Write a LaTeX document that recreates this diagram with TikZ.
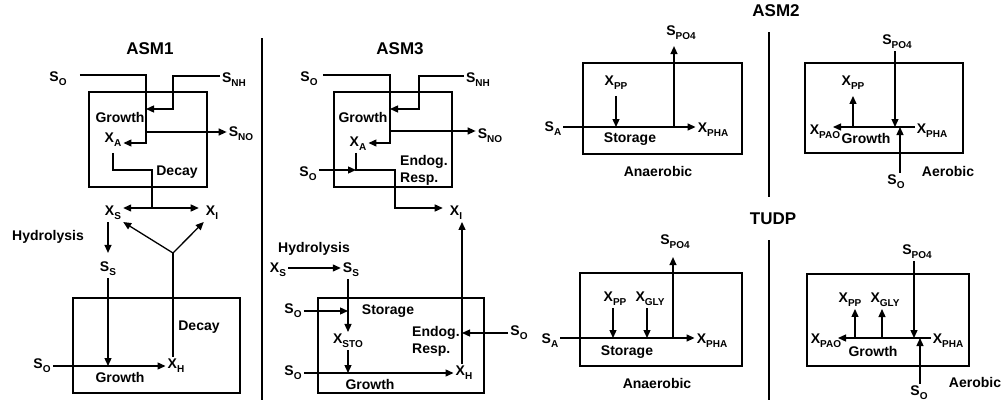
\documentclass[tikz,border=0pt]{standalone}
\usepackage{fontspec}
\setmainfont{Liberation Sans}
\usetikzlibrary{arrows.meta}
\newcommand\mysub[1]{\raisebox{-0.28em}{\fontsize{10}{10}\selectfont #1}}
\newcommand\myvar[2]{#1\mysub{#2}}
\begin{document}
\begin{tikzpicture}[x=1pt,y=-1pt,
  lbl/.style={inner sep=2pt, font=\fontsize{14}{17}\selectfont\bfseries},
  ttl/.style={inner sep=0pt, font=\fontsize{17}{19}\selectfont\bfseries},
  ln/.style={line width=1.3pt},
  arr/.style={ln,-{Triangle[length=8pt,width=7pt]}},
  proc/.style={draw, line width=1.4pt, inner sep=0pt, outer sep=0pt},
  divider/.style={line width=2.6pt}]
\useasboundingbox (0,0) rectangle (1002,402);

% ---------------- ASM1 ----------------
\node[ttl] (t1) at (150,48.5) {ASM1};
\node[proc, minimum width=118pt, minimum height=95pt] (a1B1) at (148,139.5) {};
\node[lbl] (a1SO) at (58,79) {\myvar{S}{O}};
\node[lbl] (a1SNH) at (234,80) {\myvar{S}{NH}};
\node[lbl] (a1SNO) at (241,134) {\myvar{S}{NO}};
\node[lbl] (a1G) at (120,117) {Growth};
\node[lbl] (a1XA) at (113,140) {\myvar{X}{A}};
\node[lbl] (a1D) at (177,172) {Decay};
\node[lbl] (a1XS) at (113,213) {\myvar{X}{S}};
\node[lbl] (a1XI) at (212,213) {\myvar{X}{I}};
\node[lbl] (a1Hy) at (48,237) {Hydrolysis};
\node[lbl] (a1SS) at (108,269) {\myvar{S}{S}};
\node[proc, minimum width=167pt, minimum height=95pt] (a1B2) at (156.5,345.5) {};
\node[lbl] (a1D2) at (199,327) {Decay};
\node[lbl] (a1SO2) at (42,366) {\myvar{S}{O}};
\node[lbl] (a1XH) at (176,366) {\myvar{X}{H}};
\node[lbl] (a1G2) at (120,377) {Growth};

\coordinate (a1p1) at (146,75);
\coordinate (a1p2) at (146,143);
\draw[arr, shorten <=11pt] (a1SO.east |- a1p1) -- (a1p1) -- (a1p2) -- (a1p2 -| a1XA.east);
\coordinate (a1p3) at (173,76);
\coordinate (a1p4) at (173,109);
\draw[arr] (a1SNH.west |- a1p3) -- (a1p3) -- (a1p4) -- (a1p4 -| a1p1);
\coordinate (a1p5) at (146,132);
\draw[arr] (a1p5) -- (a1p5 -| a1SNO.west);
\coordinate (a1p6) at (152,170);
\coordinate (a1p7) at (152,208);
\draw[ln, shorten <=4pt] (a1XA.south) |- (a1p6) -- (a1p7);
\draw[arr] (a1p7) -- (a1p7 -| a1XS.east);
\draw[arr, shorten >=5pt] (a1p7) -- (a1p7 -| a1XI.west);
\coordinate (a1p8) at (173,253);
\draw[ln] (a1XH.north -| a1p8) -- (a1p8);
\draw[arr] (a1p8) -- (a1XS.south east);
\draw[arr] (a1p8) -- (a1XI.south west);
\draw[arr, shorten >=7pt] (a1SS.north |- a1XS.south) -- (a1SS.north);
\draw[arr] (a1SS.south) -- (a1SS.south |- a1SO2.east);
\draw[arr] (a1SO2.east) -- (a1XH.west);

\draw[divider] (262,38) -- (262,400);

% ---------------- ASM3 ----------------
\node[ttl] (t3) at (400,48.5) {ASM3};
\node[proc, minimum width=118pt, minimum height=95pt] (a3B1) at (393,139.5) {};
\node[lbl] (a3SO) at (309,79) {\myvar{S}{O}};
\node[lbl] (a3SNH) at (478,80) {\myvar{S}{NH}};
\node[lbl] (a3SNO) at (490,136) {\myvar{S}{NO}};
\node[lbl] (a3G) at (363,117) {Growth};
\node[lbl] (a3XA) at (358,144) {\myvar{X}{A}};
\node[lbl, align=left, anchor=west] (a3ER) at (398,170) {Endog.\\Resp.};
\node[lbl] (a3SO2) at (308,174) {\myvar{S}{O}};
\node[lbl] (a3XI) at (456,213) {\myvar{X}{I}};

\coordinate (a3p1) at (390,75);
\coordinate (a3p2) at (390,143);
\draw[arr, shorten <=3pt] (a3SO.east |- a3p1) -- (a3p1) -- (a3p2) -- (a3p2 -| a3XA.east);
\coordinate (a3p3) at (419,76);
\coordinate (a3p4) at (419,109);
\draw[arr] (a3SNH.west |- a3p3) -- (a3p3) -- (a3p4) -- (a3p4 -| a3p1);
\coordinate (a3p5) at (390,131);
\draw[arr] (a3p5) -- (a3p5 -| a3SNO.west);
\coordinate (a3p6) at (356,170);
\coordinate (a3p7) at (395,170);
\coordinate (a3p8) at (395,208);
\draw[arr, shorten >=5pt] (a3XA.south -| a3p6) -- (a3p6) -- (a3p7) -- (a3p8) -- (a3p8 -| a3XI.west);
\draw[arr] (a3SO2.east |- a3p6) -- (a3p6);

\node[lbl] (a3Hy) at (314,249) {Hydrolysis};
\node[lbl] (a3XS) at (278,270) {\myvar{X}{S}};
\node[lbl] (a3SS) at (351,270) {\myvar{S}{S}};
\draw[arr] ([yshift=2pt]a3XS.east) -- ([yshift=2pt]a3SS.west);
\node[proc, minimum width=166pt, minimum height=95pt] (a3B2) at (401,345.5) {};
\node[lbl] (a3XSTO) at (348,341) {\myvar{X}{STO}};
\node[lbl] (a3SO3) at (293,311) {\myvar{S}{O}};
\node[lbl] (a3St) at (388,311) {Storage};
\node[lbl] (a3SO4) at (293,373) {\myvar{S}{O}};
\node[lbl] (a3XH) at (464,373) {\myvar{X}{H}};
\node[lbl] (a3G2) at (370,384) {Growth};
\node[lbl, align=left, anchor=west] (a3ER2) at (410,341) {Endog.\\Resp.};
\node[lbl] (a3SO5) at (519,333) {\myvar{S}{O}};

\draw[arr] (a3SS.south -| a3XSTO.north) -- (a3XSTO.north);
\draw[arr] (a3SO3.east) -- (a3SO3.east -| a3XSTO.north);
\draw[arr] (a3SO4.east) -- (a3XH.west);
\draw[arr] (a3XSTO.south) -- (a3XSTO.south |- a3SO4.east);
\coordinate (a3v) at (462,0);
\draw[arr] (a3XH.north -| a3v) -- (a3XI.south -| a3v);
\draw[arr] (a3SO5.west) -- (a3SO5.west -| a3v);

% ---------------- ASM2 ----------------
\node[ttl] (t2) at (776,11) {ASM2};
\draw[divider] (769,32) -- (769,197);

\node[proc, minimum width=159pt, minimum height=91pt] (b1B) at (662.5,108.5) {};
\node[lbl] (b1SPO) at (681,33) {\myvar{S}{PO4}};
\node[lbl] (b1XPP) at (616,83) {\myvar{X}{PP}};
\node[lbl] (b1SA) at (553,129) {\myvar{S}{A}};
\node[lbl] (b1XPHA) at (713,130) {\myvar{X}{PHA}};
\node[lbl] (b1St) at (630,139) {Storage};
\node[lbl] (b1An) at (658,171) {Anaerobic};
\coordinate (b1L) at (0,127);
\draw[arr] (b1SA.east |- b1L) -- (b1XPHA.west |- b1L);
\draw[arr, shorten <=4pt] (b1XPP.south) -- (b1XPP.south |- b1L);
\coordinate (b1j) at (674,127);
\draw[arr, shorten >=4pt] (b1j) -- (b1j |- b1SPO.south);

\node[proc, minimum width=158pt, minimum height=90pt] (b2B) at (884,108) {};
\node[lbl] (b2SPO) at (897,42) {\myvar{S}{PO4}};
\node[lbl] (b2XPP) at (853,83) {\myvar{X}{PP}};
\node[lbl] (b2XPAO) at (825,132) {\myvar{X}{PAO}};
\node[lbl] (b2XPHA) at (932,131) {\myvar{X}{PHA}};
\node[lbl] (b2G) at (866,138) {Growth};
\node[lbl] (b2SO) at (896,182) {\myvar{S}{O}};
\node[lbl] (b2Ae) at (948,171) {Aerobic};
\coordinate (b2L) at (0,127);
\coordinate (b2tip) at (833,127);
\draw[arr] (b2XPHA.west |- b2L) -- (b2tip);
\coordinate (b2v1) at (895,0);
\draw[arr] (b2SPO.south -| b2v1) -- (b2v1 |- b2L);
\draw[arr, shorten >=4pt] (b2XPP.south |- b2L) -- (b2XPP.south);
\coordinate (b2v2) at (900,0);
\draw[arr] (b2SO.north -| b2v2) -- (b2v2 |- b2L);

% ---------------- TUDP ----------------
\node[ttl] (t4) at (773,219) {TUDP};
\draw[divider] (769,240) -- (769,400);

\node[proc, minimum width=162pt, minimum height=93pt] (c1B) at (661,319.5) {};
\node[lbl] (c1SPO) at (675,242) {\myvar{S}{PO4}};
\node[lbl] (c1XPP) at (615,299) {\myvar{X}{PP}};
\node[lbl] (c1XGLY) at (650,299) {\myvar{X}{GLY}};
\node[lbl] (c1SA) at (550,341) {\myvar{S}{A}};
\node[lbl] (c1XPHA) at (712,341) {\myvar{X}{PHA}};
\node[lbl] (c1St) at (627,352) {Storage};
\node[lbl] (c1An) at (657,383) {Anaerobic};
\coordinate (c1L) at (0,338);
\draw[arr] (c1SA.east |- c1L) -- (c1XPHA.west |- c1L);
\coordinate (c1v1) at (613,0);
\draw[arr] (c1XPP.south -| c1v1) -- (c1v1 |- c1L);
\coordinate (c1v2) at (647,0);
\draw[arr] (c1XGLY.south -| c1v2) -- (c1v2 |- c1L);
\coordinate (c1j) at (673,338);
\draw[arr, shorten >=6pt] (c1j) -- (c1j |- c1SPO.south);

\node[proc, minimum width=162pt, minimum height=92pt] (c2B) at (888,320) {};
\node[lbl] (c2SPO) at (917,252) {\myvar{S}{PO4}};
\node[lbl] (c2XPP) at (850,300) {\myvar{X}{PP}};
\node[lbl] (c2XGLY) at (885,300) {\myvar{X}{GLY}};
\node[lbl] (c2XPAO) at (826,341) {\myvar{X}{PAO}};
\node[lbl] (c2XPHA) at (948,341) {\myvar{X}{PHA}};
\node[lbl] (c2G) at (873,351) {Growth};
\node[lbl] (c2SO) at (919,393) {\myvar{S}{O}};
\node[lbl] (c2Ae) at (975,382) {Aerobic};
\coordinate (c2L) at (0,338);
\coordinate (c2tip) at (838,338);
\draw[arr] (c2XPHA.west |- c2L) -- (c2tip);
\coordinate (c2v1) at (855,0);
\draw[arr] (c2v1 |- c2L) -- (c2XPP.south -| c2v1);
\coordinate (c2v2) at (882,0);
\draw[arr] (c2v2 |- c2L) -- (c2XGLY.south -| c2v2);
\coordinate (c2v3) at (914,0);
\draw[arr] (c2SPO.south -| c2v3) -- (c2v3 |- c2L);
\coordinate (c2v4) at (920,0);
\draw[arr] (c2SO.north -| c2v4) -- (c2v4 |- c2L);
\end{tikzpicture}
\end{document}
